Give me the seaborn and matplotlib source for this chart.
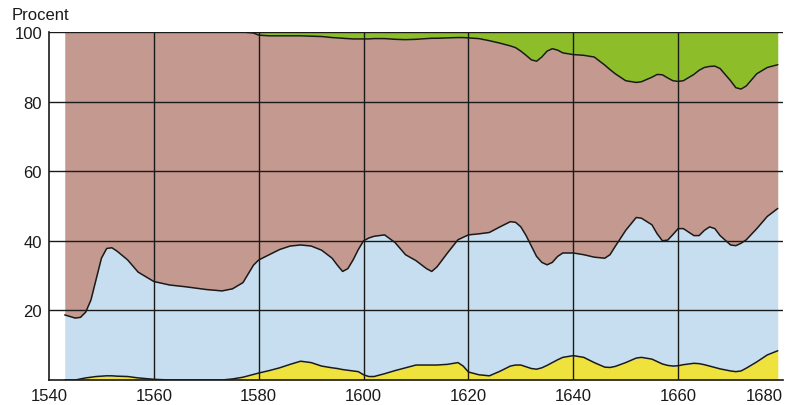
import numpy as np
import pandas as pd
import matplotlib
matplotlib.use("Agg")
import matplotlib.pyplot as plt
import seaborn as sb

# anni
years = [1543, 1545, 1546, 1547, 1548, 1549, 1550, 1551, 1552, 1553, 1555, 1557,
         1560, 1563, 1566, 1570, 1573, 1575, 1577, 1579, 1580, 1582, 1584, 1586,
         1588, 1590, 1592, 1594, 1595, 1596, 1597, 1598, 1599, 1600, 1601, 1602,
         1604, 1606, 1608, 1610, 1612, 1613, 1614, 1616, 1618, 1619, 1620, 1622,
         1624, 1626, 1628, 1629, 1630, 1631, 1632, 1633, 1634, 1635, 1636, 1637,
         1638, 1640, 1642, 1644, 1646, 1647, 1648, 1650, 1652, 1653, 1655, 1656,
         1657, 1658, 1659, 1660, 1661, 1663, 1664, 1665, 1666, 1667, 1668, 1670,
         1671, 1672, 1673, 1675, 1677, 1679]

# quote percentuali (dal basso verso l'alto)
yellow = [0, 0, 0.3, 0.6, 0.8, 1.0, 1.1, 1.2, 1.2, 1.1, 1.0, 0.6,
          0.2, 0, 0, 0, 0, 0.3, 0.8, 1.6, 2.0, 2.7, 3.5, 4.5,
          5.4, 5.0, 4.0, 3.5, 3.3, 3.0, 2.8, 2.6, 2.4, 1.5, 1.0, 1.0,
          1.8, 2.7, 3.5, 4.3, 4.3, 4.3, 4.3, 4.5, 5.0, 4.0, 2.3, 1.5,
          1.2, 2.5, 4.0, 4.3, 4.3, 3.8, 3.3, 3.1, 3.5, 4.2, 5.0, 5.8,
          6.5, 7.0, 6.5, 5.0, 3.7, 3.6, 3.9, 5.0, 6.3, 6.5, 6.0, 5.3,
          4.6, 4.2, 4.0, 4.1, 4.4, 4.8, 4.7, 4.4, 4.0, 3.6, 3.2, 2.6,
          2.4, 2.6, 3.4, 5.2, 7.2, 8.4]

blue = [18.7, 17.8, 17.7, 18.9, 22.2, 28.0, 33.9, 36.6, 36.8, 35.9, 33.5, 30.4,
        28.1, 27.3, 26.8, 26.0, 25.6, 25.9, 27.2, 31.4, 32.5, 33.3, 34.0, 34.0,
        33.4, 33.5, 33.3, 31.5, 29.7, 28.2, 29.2, 31.9, 35.1, 38.5, 39.8, 40.3,
        39.9, 36.8, 32.5, 30.0, 27.7, 26.9, 28.2, 32.0, 35.3, 37.0, 39.4, 40.5,
        41.2, 41.5, 41.5, 41.0, 39.7, 37.7, 35.2, 32.4, 30.3, 28.9, 28.8, 29.7,
        30.0, 29.5, 29.5, 30.3, 31.3, 32.4, 34.5, 38.0, 40.4, 40.0, 38.6, 36.7,
        35.4, 36.0, 37.8, 39.4, 39.1, 36.7, 36.8, 38.6, 40.0, 39.9, 38.3, 36.2,
        36.2, 36.7, 36.9, 38.3, 39.8, 40.9]

brown = [81.3, 82.2, 82.0, 80.5, 77.0, 71.0, 65.0, 62.2, 62.0, 63.0, 65.5, 69.0,
         71.7, 72.7, 73.2, 74.0, 74.4, 73.8, 72.0, 66.7, 64.6, 62.9, 61.4, 60.4,
         60.1, 60.3, 61.4, 63.4, 65.3, 67.0, 66.1, 63.5, 60.5, 58.0, 57.2, 56.8,
         56.4, 58.4, 61.8, 63.6, 66.1, 67.0, 65.7, 61.8, 58.1, 57.4, 56.6, 56.1,
         55.1, 52.8, 50.5, 50.2, 50.5, 51.8, 53.5, 56.1, 59.0, 61.4, 61.4, 59.3,
         57.5, 57.0, 57.3, 57.5, 55.5, 53.2, 49.6, 43.0, 38.8, 39.2, 42.4, 45.8,
         47.7, 46.6, 44.2, 42.3, 42.5, 46.3, 47.5, 46.8, 46.1, 46.7, 48.0, 47.2,
         45.4, 44.3, 44.2, 44.5, 42.8, 41.3]

green = [0, 0, 0, 0, 0, 0, 0, 0, 0, 0, 0, 0,
         0, 0, 0, 0, 0, 0, 0, 0.3, 0.9, 1.1, 1.1, 1.1,
         1.1, 1.2, 1.3, 1.6, 1.7, 1.8, 1.9, 2.0, 2.0, 2.0, 2.0, 1.9,
         1.9, 2.1, 2.2, 2.1, 1.9, 1.8, 1.8, 1.7, 1.6, 1.6, 1.7, 1.9,
         2.5, 3.2, 4.0, 4.5, 5.5, 6.7, 8.0, 8.4, 7.2, 5.5, 4.8, 5.2,
         6.0, 6.5, 6.7, 7.2, 9.5, 10.8, 12.0, 14.0, 14.5, 14.3, 13.0, 12.2,
         12.3, 13.2, 14.0, 14.2, 14.0, 12.2, 11.0, 10.2, 9.9, 9.8, 10.5, 14.0,
         16.0, 16.4, 15.5, 12.0, 10.2, 9.4]

x_ticks = [1540, 1560, 1580, 1600, 1620, 1640, 1660, 1680]
y_ticks = [20, 40, 60, 80, 100]
colori = ['#EFE23C', '#C6DEEF', '#C49A90', '#8DBE2A']

df = pd.DataFrame({'anno': years, 'giallo': yellow, 'blu': blue,
                   'marrone': brown, 'verde': green})
# limiti cumulati tra le fasce
df['lim1'] = df['giallo']
df['lim2'] = df['lim1'] + df['blu']
df['lim3'] = df['lim2'] + df['marrone']

sb.set_style("white")
plt.rcParams['font.family'] = ['Liberation Sans', 'DejaVu Sans']

fig = plt.figure(figsize=(7.9, 4.06), dpi=100)
ax = fig.add_axes([49 / 790, 1 - 381 / 406, (783 - 49) / 790, (381 - 33) / 406])

ax.stackplot(df['anno'], df['giallo'], df['blu'], df['marrone'], df['verde'],
             colors=colori, linewidth=0)

for col in ['lim1', 'lim2', 'lim3']:
    sb.lineplot(data=df, x='anno', y=col, ax=ax, color='#1a1a1a', linewidth=1.1)

# griglia
for xv in x_ticks[1:-1]:
    ax.axvline(xv, color='#1a1a1a', linewidth=1.0, zorder=3)
for yv in y_ticks:
    ax.axhline(yv, color='#1a1a1a', linewidth=1.0, zorder=3)

ax.set_xlim(1540, 1680)
ax.set_ylim(0, 100)
ax.set_xticks(x_ticks)
ax.set_yticks(y_ticks)
ax.set_xlabel('')
ax.set_ylabel('')
ax.tick_params(axis='both', length=0, labelsize=12, colors='#1a1a1a')
ax.tick_params(axis='x', pad=6)
ax.tick_params(axis='y', pad=5)
ax.get_xticklabels()[-1].set_horizontalalignment('right')

for s in ['top', 'right']:
    ax.spines[s].set_visible(False)
for s in ['left', 'bottom']:
    ax.spines[s].set_color('#1a1a1a')
    ax.spines[s].set_linewidth(1.2)

fig.text(12 / 790, 1 - 15 / 406, 'Procent', fontsize=12, va='center', ha='left',
         color='#1a1a1a')

plt.savefig('out.png', dpi=100)
